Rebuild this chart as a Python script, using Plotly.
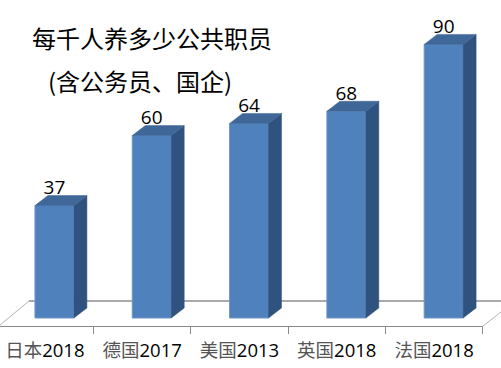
import plotly.graph_objects as go

categories = ["日本2018", "德国2017", "美国2013", "英国2018", "法国2018"]
values = [37, 60, 64, 68, 90]

W, H = 501, 368
AXIS_PX_X = 483          # right end of the x axis line
AXIS_PX_Y = 326          # height of the x axis line
ZERO_PX_Y = 318
PX_PER_CAT = 97.4
PX_PER_VAL = 3.04
CENTER0_PX = 54.5
BAR_W = 39 / PX_PER_CAT
DX = 13 / PX_PER_CAT     # bar depth
DY = 10 / PX_PER_VAL
AXIS_SHIFT = 9.6 / PX_PER_CAT   # the axis sits in front of the bars, so it reads shifted left
LABEL_DROP = 3.5 / PX_PER_VAL

FRONT, SIDE, TOP = "#4f81bd", "#30527e", "#3f6797"
x = list(range(len(values)))

fig = go.Figure()
fig.add_trace(go.Bar(x=x, y=values, width=BAR_W, marker=dict(color=FRONT, line=dict(color="#6f97c8", width=1)),
                     hoverinfo="skip"))

for i, v in zip(x, values):
    r = i + BAR_W / 2
    l = i - BAR_W / 2
    fig.add_trace(go.Scatter(x=[r, r + DX, r + DX, r, r], y=[0, DY, v + DY, v, 0], mode="lines",
                             fill="toself", fillcolor=SIDE, line=dict(color=SIDE, width=0.5), hoverinfo="skip"))
    fig.add_trace(go.Scatter(x=[l, r, r + DX, l + DX, l], y=[v, v, v + DY, v + DY, v], mode="lines",
                             fill="toself", fillcolor=TOP, line=dict(color=TOP, width=0.5), hoverinfo="skip"))

fig.add_trace(go.Scatter(x=x, y=[v + DY - LABEL_DROP for v in values], mode="text", text=[str(v) for v in values],
                         textposition="top center", cliponaxis=False,
                         textfont=dict(family="Open Sans, Noto Sans, sans-serif", size=19, color="#000000"),
                         hoverinfo="skip"))


def px(p):
    return p / AXIS_PX_X


def py(p):
    return 1 - p / AXIS_PX_Y


floor = [
    ((29, 301), (501, 301), "#a9a9a9", 2),
    ((0, 325), (29, 301), "#b4b4b4", 1),
    ((483, 326), (501, 312), "#b4b4b4", 1),
]
shapes = [dict(type="line", xref="paper", yref="paper", layer="below",
               x0=px(a[0]), y0=py(a[1]), x1=px(b[0]), y1=py(b[1]), line=dict(color=c, width=w))
          for a, b, c, w in floor]

titles = [("每千人养多少公共职员", 152, 37), ("(含公务员、国企)", 139.5, 80)]
annotations = [dict(text=t, xref="paper", yref="paper", x=px(cx), y=py(cy), showarrow=False,
                    xanchor="center", yanchor="middle",
                    font=dict(family="Noto Sans CJK SC, sans-serif", size=24, color="#000000"))
               for t, cx, cy in titles]

ticktext = [f'<span style="color:#555555">{c[:2]}</span>{c[2:]}' for c in categories]

fig.update_layout(
    width=W, height=H, margin=dict(l=0, r=W - AXIS_PX_X, t=0, b=H - AXIS_PX_Y),
    paper_bgcolor="white", plot_bgcolor="white", showlegend=False,
    shapes=shapes, annotations=annotations,
    xaxis=dict(range=[-CENTER0_PX / PX_PER_CAT, (AXIS_PX_X - CENTER0_PX + 0.5) / PX_PER_CAT],
               tickmode="array", tickvals=[i - AXIS_SHIFT for i in x], ticktext=ticktext, ticks="",
               ticklabelstandoff=8,
               tickfont=dict(family="Open Sans, Noto Sans CJK SC, sans-serif", size=18.5, color="#000000"),
               showgrid=False, zeroline=False, showline=True, linecolor="#8a8a8a", linewidth=1,
               minor=dict(tickmode="array", tickvals=[i + 0.5 - AXIS_SHIFT for i in x], ticks="outside", ticklen=7,
                          tickcolor="#8a8a8a", tickwidth=1, showgrid=False)),
    yaxis=dict(range=[-(AXIS_PX_Y - ZERO_PX_Y) / PX_PER_VAL, ZERO_PX_Y / PX_PER_VAL],
               visible=False, showgrid=False, zeroline=False),
)

fig.write_html("out.html", config=dict(displayModeBar=False),
               post_script="document.body.style.margin='0';document.body.style.overflow='hidden';")
